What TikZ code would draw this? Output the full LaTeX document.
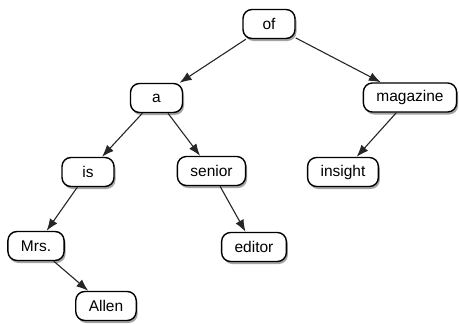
\documentclass[tikz,border=0pt]{standalone}
\usepackage{fontspec}
\setmainfont{Liberation Sans}
\usetikzlibrary{arrows.meta,shadows}
\begin{document}
\begin{tikzpicture}[x=1pt,y=-1pt,
  word/.style={draw=black, line width=1.4pt, fill=white, rounded corners=9pt,
    minimum width=52pt, minimum height=29pt, inner xsep=13pt, inner ysep=0pt,
    font=\fontsize{15.5}{18}\selectfont,
    drop shadow={shadow xshift=1.5pt, shadow yshift=-2.5pt, opacity=0.55, fill=black!65}},
  link/.style={draw=black!85, line width=1.1pt, -{Latex[length=12pt,width=9pt]}}]
\useasboundingbox (0,0) rectangle (459,324);
\node[word] (of) at (269,24) {of};
\node[word] (a) at (156.5,98) {a};
\node[word] (magazine) at (410,97.5) {magazine};
\node[word] (is) at (88,172) {is};
\node[word] (senior) at (211.5,171) {senior};
\node[word] (insight) at (343,172) {insight};
\node[word] (mrs) at (36,246) {Mrs.};
\node[word] (editor) at (254,247) {editor};
\node[word] (allen) at (106,306) {Allen};
\draw[link] (of) -- (a);
\draw[link] (of) -- (magazine);
\draw[link] (a) -- (is);
\draw[link] (a) -- (senior);
\draw[link] (magazine) -- (insight);
\draw[link] (is) -- (mrs);
\draw[link] (senior) -- (editor);
\draw[link] (mrs) -- (allen);
\end{tikzpicture}
\end{document}
